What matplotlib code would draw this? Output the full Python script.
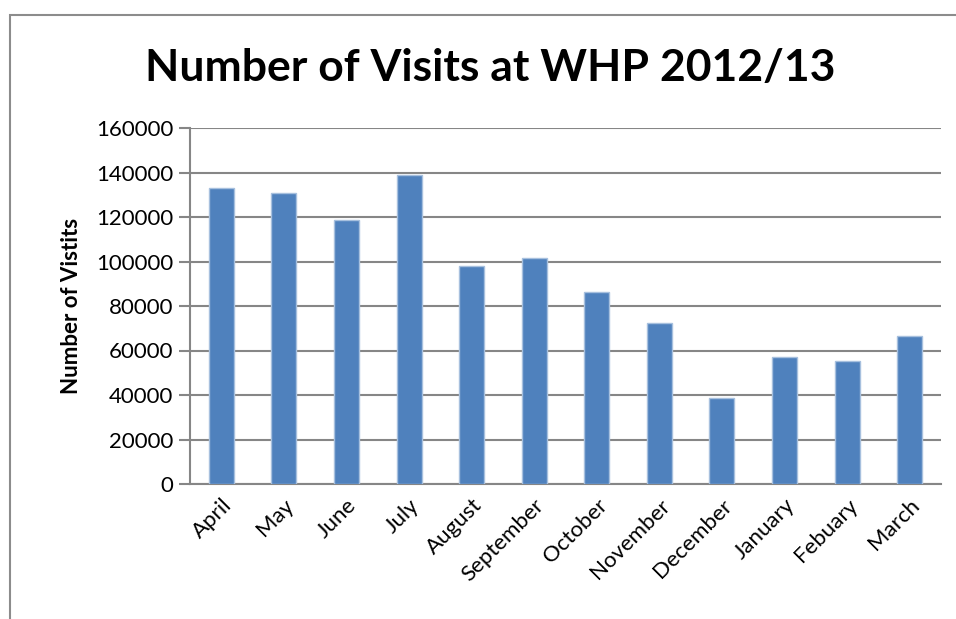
import matplotlib
matplotlib.use("Agg")
from matplotlib import pyplot as plt
from matplotlib.patches import Rectangle
import numpy as np

months = ["April", "May", "June", "July", "August", "September",
          "October", "November", "December", "January", "Febuary", "March"]
visits = [133200, 130800, 118700, 139000, 97800, 101500,
          86300, 72300, 38600, 57000, 55300, 66400]
yticks = [0, 20000, 40000, 60000, 80000, 100000, 120000, 140000, 160000]

plt.rcParams['font.family'] = ['Lato', 'DejaVu Sans']

fig = plt.figure(figsize=(9.56, 6.19), dpi=100)
W, H = 956, 619

# chart area border (runs off the right and bottom edges)
fig.patches.append(Rectangle((10 / W, -0.1), 1.2, 1 - 15 / H + 0.1,
                             transform=fig.transFigure, fill=False,
                             edgecolor="#8c8c8c", linewidth=1.5))

ax = fig.add_axes([190 / W, (H - 484) / H, 751 / W, 356 / H])
x = np.arange(len(months))
ax.bar(x, visits, width=0.4, color="#4f81bd", edgecolor="#a7c0de",
       linewidth=1, zorder=3)

ax.set_xlim(-0.5, len(months) - 0.5)
ax.set_ylim(0, 160000)
ax.set_yticks(yticks)
ax.set_yticklabels([str(v) for v in yticks], fontsize=16)
ax.set_xticks(x)
ax.set_xticklabels(months, rotation=45, ha="right", rotation_mode="anchor",
                   fontsize=16)
ax.tick_params(axis="x", length=0, pad=8)
ax.tick_params(axis="y", length=8, color="#868686", width=1.5, pad=4)
ax.grid(axis="y", color="#868686", linewidth=1.5, zorder=0)
for s in ["top", "right"]:
    ax.spines[s].set_visible(False)
for s in ["left", "bottom"]:
    ax.spines[s].set_color("#868686")
    ax.spines[s].set_linewidth(1.5)

ax.set_ylabel("Number of Vistits", fontsize=16, fontweight="bold", labelpad=10)
fig.text(490 / W, 1 - 68 / H, "Number of Visits at WHP 2012/13",
         ha="center", va="center", fontsize=32, fontweight="bold")

fig.savefig("out.png", dpi=100)
